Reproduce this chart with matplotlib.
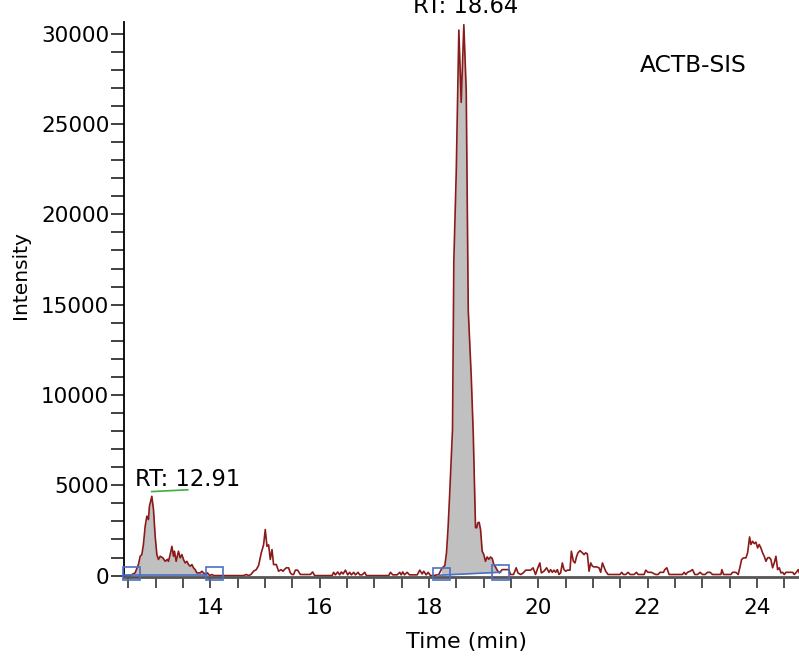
import numpy as np
import matplotlib
matplotlib.use('Agg')
import matplotlib.pyplot as plt
from matplotlib.patches import Rectangle
from matplotlib.ticker import MultipleLocator

# chromatogram trace (time in min, intensity in counts)
timeMin = [12.425, 12.535, 12.626, 12.687, 12.718, 12.749, 12.778, 12.810, 12.841, 12.870,
           12.888, 12.932, 12.962, 12.993, 13.024, 13.053, 13.084, 13.134, 13.176, 13.218,
           13.236, 13.267, 13.299, 13.328, 13.346, 13.377, 13.419, 13.451, 13.482, 13.511,
           13.542, 13.573, 13.603, 13.634, 13.665, 13.694, 13.725, 13.756, 13.817, 13.848,
           13.877, 13.908, 13.951, 13.987, 14.031, 14.064, 14.610, 14.659, 14.701, 14.745,
           14.793, 14.842, 14.885, 14.934, 14.976, 15.007, 15.038, 15.068, 15.099, 15.130,
           15.159, 15.209, 15.251, 15.295, 15.331, 15.355, 15.392, 15.434, 15.465, 15.496,
           15.526, 15.557, 15.599, 15.648, 15.832, 15.874, 15.910, 16.229, 16.258, 16.289,
           16.332, 16.368, 16.399, 16.430, 16.473, 16.515, 16.551, 16.582, 16.625, 16.656,
           16.705, 16.734, 16.778, 16.826, 16.857, 17.266, 17.297, 17.339, 17.419, 17.467,
           17.493, 17.522, 17.553, 17.603, 17.645, 17.786, 17.833, 17.877, 17.906, 17.950,
           17.987, 18.029, 18.090, 18.181, 18.225, 18.262, 18.291, 18.322, 18.350, 18.380,
           18.432, 18.456, 18.500, 18.548, 18.591, 18.639, 18.683, 18.720, 18.775, 18.811,
           18.853, 18.876, 18.894, 18.919, 18.945, 18.975, 19.005, 19.035, 19.066, 19.097,
           19.127, 19.158, 19.188, 19.218, 19.249, 19.291, 19.340, 19.400, 19.462, 19.493,
           19.548, 19.597, 19.628, 19.678, 19.727, 19.770, 19.862, 19.905, 19.951, 19.993,
           20.030, 20.057, 20.104, 20.154, 20.196, 20.227, 20.258, 20.287, 20.319, 20.350,
           20.379, 20.410, 20.441, 20.471, 20.502, 20.533, 20.581, 20.606, 20.643, 20.672,
           20.703, 20.727, 20.764, 20.808, 20.837, 20.868, 20.899, 20.929, 20.960, 20.991,
           21.020, 21.070, 21.112, 21.143, 21.174, 21.203, 21.234, 21.277, 21.496, 21.527,
           21.558, 21.601, 21.643, 21.680, 21.753, 21.797, 21.826, 21.936, 21.967, 22.009,
           22.071, 22.119, 22.150, 22.192, 22.229, 22.291, 22.315, 22.352, 22.394, 22.639,
           22.668, 22.700, 22.731, 22.778, 22.822, 22.864, 22.914, 22.962, 23.005, 23.053,
           23.097, 23.145, 23.188, 23.341, 23.359, 23.390, 23.524, 23.555, 23.615, 23.658,
           23.694, 23.720, 23.756, 23.799, 23.830, 23.866, 23.890, 23.921, 23.951, 23.982,
           24.013, 24.042, 24.073, 24.104, 24.134, 24.165, 24.195, 24.225, 24.256, 24.287,
           24.317, 24.348, 24.379, 24.409, 24.440, 24.471, 24.500, 24.531, 24.592, 24.654,
           24.683, 24.727, 24.756, 24.787]
intensity = [0, 0, 150, 610, 1070, 1160, 1720, 2730, 3290, 3100,
             3840, 4390, 3660, 2180, 1160, 890, 1070, 980, 790, 900,
             790, 1160, 1620, 1070, 1350, 790, 1350, 980, 1160, 890,
             700, 790, 610, 520, 610, 430, 330, 150, 150, 240,
             150, 60, 150, 0, 60, 0, 0, 60, 0, 60,
             240, 330, 560, 1260, 1700, 2550, 1620, 1700, 890, 1440,
             610, 610, 240, 330, 240, 330, 430, 430, 150, 60,
             60, 300, 300, 60, 60, 200, 0, 0, 180, 40,
             200, 40, 200, 90, 300, 40, 180, 40, 180, 40,
             180, 40, 40, 180, 0, 0, 180, 40, 40, 180,
             40, 200, 40, 180, 40, 40, 300, 90, 240, 40,
             180, 0, 0, 60, 330, 480, 550, 1260, 2600, 4500,
             8100, 17400, 22300, 30200, 26200, 30500, 26850, 14700, 11000, 7900,
             2650, 2650, 2920, 2950, 2550, 1350, 1160, 790, 1030, 900,
             1030, 950, 610, 480, 300, 150, 330, 330, 330, 60,
             60, 430, 150, 60, 150, 300, 300, 430, 60, 430,
             700, 150, 240, 430, 180, 330, 180, 300, 180, 330,
             60, 150, 700, 330, 240, 300, 300, 1350, 790, 700,
             1070, 1260, 1380, 1260, 1160, 1260, 1200, 240, 700, 520,
             480, 480, 430, 180, 700, 480, 240, 60, 60, 180,
             60, 60, 180, 60, 60, 180, 60, 60, 300, 180,
             180, 100, 60, 60, 180, 180, 330, 430, 60, 60,
             180, 60, 180, 240, 330, 60, 60, 180, 60, 60,
             180, 180, 60, 60, 330, 60, 60, 180, 180, 60,
             520, 890, 980, 980, 1260, 2140, 1720, 1900, 1770, 1850,
             1530, 1720, 1530, 1260, 1070, 790, 980, 1000, 890, 430,
             700, 1070, 330, 430, 150, 180, 60, 180, 180, 180,
             60, 200, 330, 60]

# integrated peaks: baseline start/end (time, intensity) and labels
peakStart = [(12.40, 20), (18.19, 20)]
peakEnd = [(13.94, 20), (19.31, 185)]
peakLabels = ['RT: 12.91', 'RT: 18.64']
compoundName = 'ACTB-SIS'

t = np.array(timeMin)
y = np.array(intensity)

fig = plt.figure(figsize=(7.99, 6.66), dpi=100)
ax = fig.add_axes([0.155, 0.1336, 0.845, 0.8334])

traceColor = '#8b1a1a'
boxColor = '#4a6fc4'

# grey area under each integrated peak
for (t0, b0), (t1, b1) in zip(peakStart, peakEnd):
    base = np.interp(t, [t0, t1], [b0, b1])
    inside = (t >= t0) & (t <= t1)
    ax.fill_between(t, y, base, where=inside, color='#c0c0c0', lw=0, zorder=1)
    ax.plot([t0, t1], [b0, b1], color=boxColor, lw=1.2, zorder=3)

ax.plot(t, y, color=traceColor, lw=1.2, zorder=2)

# little boxes marking the peak boundaries
boxes = [(12.40, 12.72, 460), (13.93, 14.24, 460), (18.07, 18.38, 430), (19.16, 19.46, 570)]
for b0, b1, top in boxes:
    ax.add_patch(Rectangle((b0, -220), b1 - b0, top + 220, fill=False,
                           ec=boxColor, lw=1.2, clip_on=False, zorder=4))

# peak labels
ax.text(13.58, 5320, peakLabels[0], fontsize=16.3, ha='center', va='center')
ax.plot([12.93, 13.59], [4650, 4750], color='#3cb043', lw=1.2)
ax.text(18.67, 31500, peakLabels[1], fontsize=16.3, ha='center', va='center', clip_on=False)
ax.text(0.844, 0.921, compoundName, fontsize=16.8, ha='center', va='center', transform=ax.transAxes)

ax.set_xlim(12.42, 24.77)
ax.set_ylim(-80, 30650)

ax.xaxis.set_major_locator(MultipleLocator(2))
ax.xaxis.set_minor_locator(MultipleLocator(0.5))
ax.yaxis.set_major_locator(MultipleLocator(5000))
ax.yaxis.set_minor_locator(MultipleLocator(1000))
ax.set_yticks(np.arange(0, 30001, 5000))

ax.tick_params(axis='x', which='both', length=8, width=1.3, color='#444444', labelsize=15.5, pad=7)
ax.tick_params(axis='y', which='both', length=9.5, width=1.3, color='#333333', labelsize=15.5, pad=1)

for side in ['top', 'right']:
    ax.spines[side].set_visible(False)
ax.spines['left'].set_linewidth(1.3)
ax.spines['bottom'].set_linewidth(2)
ax.spines['bottom'].set_color('#555555')

ax.set_xlabel('Time (min)', fontsize=16)
ax.set_ylabel('Intensity', fontsize=14.5)
ax.xaxis.set_label_coords(0.508, -0.099)
ax.yaxis.set_label_coords(-0.139, 0.544)

fig.savefig('out.png', dpi=100)
